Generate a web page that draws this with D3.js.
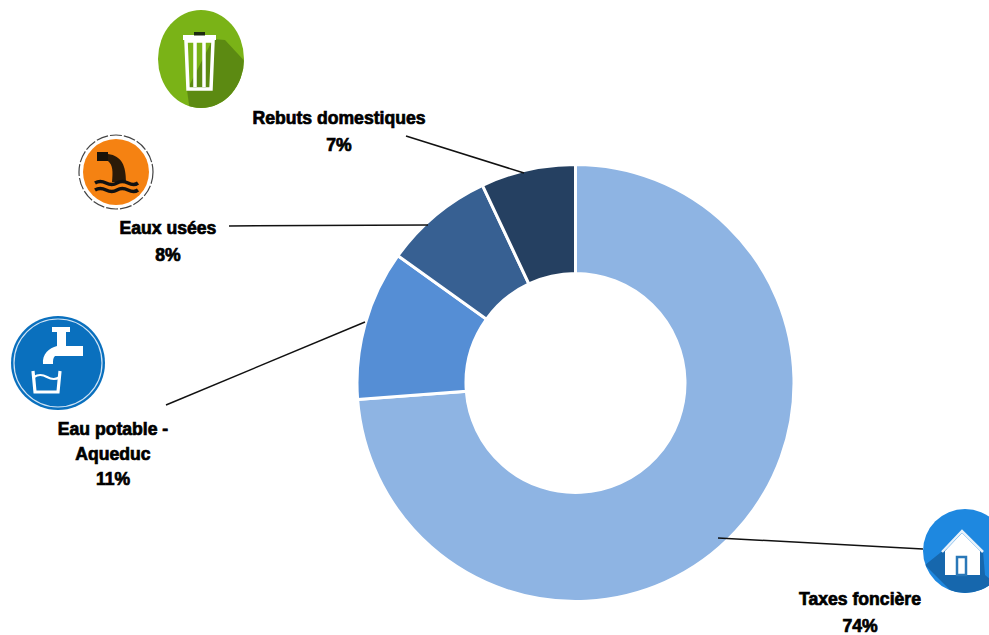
<!DOCTYPE html>
<html>
<head>
<meta charset="utf-8">
<script src="https://cdn.jsdelivr.net/npm/d3@7"></script>
<style>
  html, body { margin: 0; padding: 0; background: #fff; }
  svg { display: block; }
  .label { font-family: "Liberation Sans", Arial, sans-serif; font-weight: bold; font-size: 17.6px; fill: #000; stroke: #000; stroke-width: 0.7px; text-anchor: middle; }
  .leader { stroke: #111; stroke-width: 1.5px; fill: none; }
</style>
</head>
<body>
<svg width="989" height="635"></svg>
<script>
const categories = ["Taxes foncière", "Eau potable -|Aqueduc", "Eaux usées", "Rebuts domestiques"]
const values = [73.8, 11.1, 8.1, 7]
const colors = ["#8eb4e3", "#558ed5", "#376092", "#254061"]

// label placement, same order as categories
const labelX = [860, 113, 168, 339]
const labelY = [605, 435, 234, 124]
const leaders = [
    [[718, 538], [923, 549]],
    [[365, 322], [166, 405]],
    [[428, 225], [229, 226]],
    [[524, 173], [406, 136]]
]

const svg = d3.select("svg")

const pie = d3.pie().sort(null).value(d => d)
const arc = d3.arc().innerRadius(109.5).outerRadius(218.5)

svg.append("g")
    .attr("transform", "translate(575.5,383)")
    .selectAll("path")
    .data(pie(values))
    .enter()
    .append("path")
    .attr("d", arc)
    .attr("fill", (d, i) => colors[i])
    .attr("stroke", "#fff")
    .attr("stroke-width", 3)

svg.selectAll("line.leader")
    .data(leaders)
    .enter()
    .append("line")
    .attr("class", "leader")
    .attr("x1", d => d[0][0])
    .attr("y1", d => d[0][1])
    .attr("x2", d => d[1][0])
    .attr("y2", d => d[1][1])

const labels = svg.selectAll("text.label")
    .data(categories)
    .enter()
    .append("text")
    .attr("class", "label")
    .attr("x", (d, i) => labelX[i])
    .attr("y", (d, i) => labelY[i])

labels.each(function (d, i) {
    const lines = d.split("|").concat(Math.round(values[i]) + "%")
    d3.select(this).selectAll("tspan")
        .data(lines)
        .enter()
        .append("tspan")
        .attr("x", labelX[i])
        .attr("dy", (l, j) => j === 0 ? 0 : (lines.length > 2 ? 25 : 26.5))
        .text(l => l)
})

// icons
const defs = svg.append("defs")
defs.append("clipPath").attr("id", "clipBin").append("ellipse").attr("rx", 43).attr("ry", 49)
defs.append("clipPath").attr("id", "clipHouse").append("circle").attr("r", 42)

// bin
const bin = svg.append("g").attr("transform", "translate(201,59)")
bin.append("ellipse").attr("rx", 43).attr("ry", 49).attr("fill", "#7ab317")
bin.append("path").attr("clip-path", "url(#clipBin)")
    .attr("d", "M12,-20 L24,-19 L60,20 L60,60 L-10,60 L-14,31 Z").attr("fill", "#5c8a12")
bin.append("rect").attr("x", -18).attr("y", -24).attr("width", 33).attr("height", 5).attr("fill", "#fff")
bin.append("rect").attr("x", -7).attr("y", -27).attr("width", 11).attr("height", 3.5).attr("fill", "#1c2a10")
bin.append("path").attr("d", "M-15,-18 L12,-18 L10,30 L-13,30 Z").attr("fill", "none").attr("stroke", "#fff").attr("stroke-width", 3.5)
bin.append("path").attr("d", "M-6,-17 L-6,28 M3,-17 L3,28").attr("stroke", "#fff").attr("stroke-width", 3.5)

// sewage
const sewage = svg.append("g").attr("transform", "translate(116,172)")
sewage.append("circle").attr("r", 37).attr("fill", "#fff").attr("stroke", "#444").attr("stroke-width", 1.2).attr("stroke-dasharray", "12 2")
sewage.append("circle").attr("r", 33).attr("fill", "#f58212")
sewage.append("rect").attr("x", -19).attr("y", -20).attr("width", 11).attr("height", 9).attr("fill", "#1a1208")
sewage.append("path").attr("d", "M-8,-18 C6,-16 10,-6 10,10 L-4,10 C-3,0 -3,-7 -8,-11 Z").attr("fill", "#2b1a08")
sewage.append("path").attr("d", "M-21,11 q5,-3 11,0 t11,0 t11,0 t10,0 M-21,18 q5,-3 11,0 t11,0 t11,0 t10,0")
    .attr("fill", "none").attr("stroke", "#111").attr("stroke-width", 3.5)

// tap
const tap = svg.append("g").attr("transform", "translate(58,363)")
tap.append("circle").attr("r", 47).attr("fill", "#0a70be")
tap.append("circle").attr("r", 44).attr("fill", "none").attr("stroke", "#cfe3f5").attr("stroke-width", 1.2)
tap.append("path").attr("d", "M-6,-36 L12,-36 L12,-31 L8,-31 L8,-17 L25,-17 L25,-7 L-3,-7 C-5,-5 -5,-3 -5,1 L-15,1 C-16,-9 -9,-15 -1,-17 L-1,-31 L-6,-31 Z").attr("fill", "#fff")
tap.append("path").attr("d", "M-25,8 L-23,29 L0,29 L2,8").attr("fill", "none").attr("stroke", "#fff").attr("stroke-width", 3.2)
tap.append("path").attr("d", "M-24,14 q6,-4 13,0 t13,0").attr("fill", "none").attr("stroke", "#fff").attr("stroke-width", 2.2)

// house
const house = svg.append("g").attr("transform", "translate(965,551)")
house.append("circle").attr("r", 42).attr("fill", "#1e88e0")
house.append("path").attr("clip-path", "url(#clipHouse)")
    .attr("d", "M-20,-2 L-40,14 L-6,48 L50,48 L20,24 L18,0 Z").attr("fill", "#1667ad")
house.append("path").attr("d", "M-20,0 L-20,24 L15,24 L15,0 L-3,-18 Z").attr("fill", "#fff")
house.append("path").attr("d", "M-23,1 L-3,-20 L18,1").attr("fill", "none").attr("stroke", "#e8f2fb").attr("stroke-width", 2.5)
house.append("rect").attr("x", -8).attr("y", 6).attr("width", 9).attr("height", 18).attr("fill", "none").attr("stroke", "#2a78b8").attr("stroke-width", 2.5)
</script>
</body>
</html>
